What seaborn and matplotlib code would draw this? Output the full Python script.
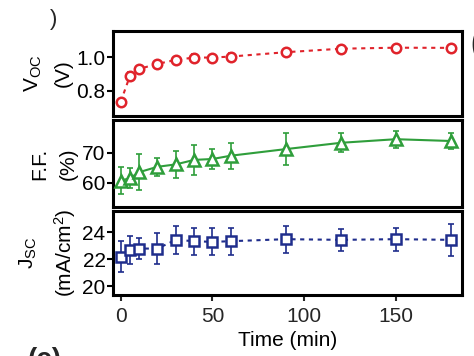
import matplotlib
matplotlib.use("Agg")
import matplotlib.pyplot as plt
import seaborn as sns
import pandas as pd

sns.set_theme(style="white")
plt.rcParams['font.family'] = ['Liberation Sans', 'DejaVu Sans']
plt.rcParams['mathtext.fontset'] = 'custom'
plt.rcParams['mathtext.rm'] = 'Liberation Sans'
plt.rcParams['mathtext.it'] = 'Liberation Sans'

time_min = [0, 5, 10, 20, 30, 40, 50, 60, 90, 120, 150, 180]
voc = [0.734, 0.888, 0.93, 0.96, 0.984, 0.998, 0.998, 1.004, 1.03, 1.051, 1.057, 1.056]
voc_err = [0.012, 0.025, 0.012, 0.012, 0.012, 0.02, 0.01, 0.02, 0.012, 0.012, 0.01, 0.01]
ff = [60.7, 61.5, 63.5, 65.3, 66.1, 67.6, 67.9, 69.0, 71.2, 73.3, 74.5, 73.9]
ff_err = [4.6, 3.3, 6.0, 3.0, 4.6, 5.0, 3.2, 4.3, 5.3, 3.2, 2.9, 2.6]
jsc = [22.2, 22.7, 22.8, 22.8, 23.45, 23.35, 23.3, 23.35, 23.5, 23.45, 23.5, 23.45]
jsc_err = [1.15, 1.05, 0.8, 1.15, 1.05, 1.0, 1.0, 1.0, 1.0, 0.8, 0.85, 1.2]

x_ticks = [0, 50, 100, 150]
voc_ticks = [0.8, 1.0]
ff_ticks = [60, 70]
jsc_ticks = [20, 22, 24]

df = pd.DataFrame({"t": time_min, "voc": voc, "ff": ff, "jsc": jsc})

W, H = 474, 356
fig = plt.figure(figsize=(W / 100, H / 100), dpi=100)
left, right = 112.5 / W, 462 / W
def box(top, bot):
    return [left, 1 - bot / H, right - left, (bot - top) / H]

ax1 = fig.add_axes(box(31, 116))
ax2 = fig.add_axes(box(120, 207))
ax3 = fig.add_axes(box(211, 295))

red = '#e0232b'
green = '#2f9e3b'
blue = '#1f2d8c'
fs = 15

specs = [
    (ax1, "voc", voc_err, red, 'o', (2, 2.2), 6.8, (0.648, 1.157), voc_ticks, "$\\mathregular{V_{OC}}$\n(V)"),
    (ax2, "ff", ff_err, green, '^', None, 8, (51.9, 80.9), ff_ticks, "F.F.\n(%)"),
    (ax3, "jsc", jsc_err, blue, 's', (2, 2.2), 6.8, (19.34, 25.6), jsc_ticks, "$\\mathregular{J_{SC}}$\n(mA/cm$^{\\mathregular{2}}$)"),
]

for ax, col, err, c, m, dash, ms, ylim, yt, lab in specs:
    ax.errorbar(time_min, df[col], yerr=err, fmt='none', ecolor=c, elinewidth=1.2,
                capsize=2, capthick=1.2, zorder=2)
    sns.lineplot(data=df, x="t", y=col, ax=ax, color=c, linewidth=1.5,
                 marker=m, markersize=ms, markerfacecolor='white',
                 markeredgecolor=c, markeredgewidth=1.8, zorder=3)
    line = ax.lines[-1]
    if dash is not None:
        line.set_dashes(dash)
    ax.set_xlim(-4.5, 186)
    ax.set_ylim(*ylim)
    ax.set_yticks(yt)
    ax.set_yticklabels([f"{v:g}" if col != "voc" else f"{v:.1f}" for v in yt], fontsize=fs)
    ax.set_ylabel(lab, fontsize=fs, labelpad=3, linespacing=1.65, color='black')
    ax.set_xlabel("")
    for s in ax.spines.values():
        s.set_linewidth(2.2)
        s.set_color('black')
    ax.tick_params(axis='y', direction='out', length=4, width=1.5, pad=1, left=True, colors='black')
    ax.tick_params(axis='x', direction='out', length=4, width=1.5, pad=5, bottom=True)
    ax.grid(False)

for ax in (ax1, ax2):
    ax.set_xticks(x_ticks)
    ax.tick_params(axis='x', bottom=False, labelbottom=False)

ax3.set_xticks(x_ticks)
ax3.set_xticklabels([str(v) for v in x_ticks], fontsize=fs)
ax3.set_xlabel("Time (min)", fontsize=fs, labelpad=3, color='black')

fig.text(54 / W, 1 - 19 / H, ")", fontsize=16, ha='center', va='center')
fig.text(476 / W, 1 - 44 / H, "(", fontsize=24, ha='center', va='center', fontweight='bold')
fig.text(28 / W, 1 - 347 / H, "(c)", fontsize=20, ha='left', va='top', fontweight='bold')

fig.savefig("out.png", dpi=100)
